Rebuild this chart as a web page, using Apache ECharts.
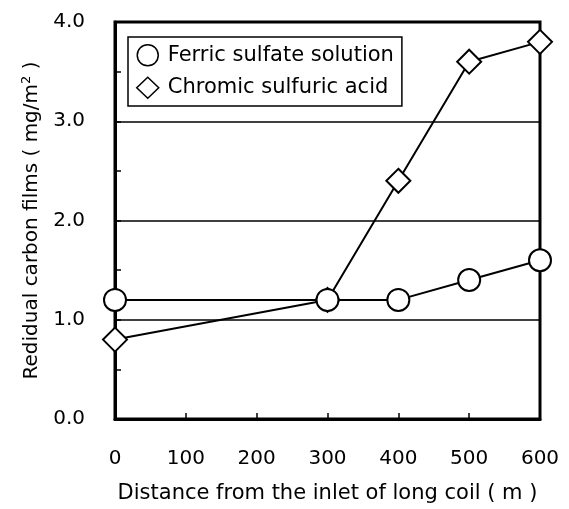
<!DOCTYPE html>
<html>
<head>
<meta charset="utf-8">
<script src="https://cdn.jsdelivr.net/npm/echarts@6/dist/echarts.min.js"></script>
<style>
  html, body { margin: 0; padding: 0; background: #fff; }
  #main { width: 569px; height: 509px; }
</style>
</head>
<body>
<div id="main"></div>
<script>
// values
var distances = [0, 300, 400, 500, 600]
var ferric = [1.2, 1.2, 1.2, 1.4, 1.6]
var chromic = [0.8, 1.2, 2.4, 3.6, 3.8]
var seriesNames = ['Ferric sulfate solution', 'Chromic sulfuric acid']

var font = 'DejaVu Sans'

function pairs(xs, ys) {
  return xs.map(function(x, i) { return [x, ys[i]] })
}

var chart = echarts.init(document.getElementById('main'))
var option = {
  animation: false,
  textStyle: { fontFamily: font, color: '#000' },
  grid: {
    left: 115, right: 29, top: 22, bottom: 85,
    show: true, borderColor: '#000', borderWidth: 3
  },
  legend: {
    left: 128, top: 37,
    orient: 'vertical',
    borderColor: '#000', borderWidth: 1.5,
    padding: [7, 8, 7, 8],
    itemGap: 10,
    itemWidth: 22, itemHeight: 21,
    textStyle: { fontFamily: font, fontSize: 21, color: '#000', padding: [0, 0, 0, 4] },
    data: [
      { name: seriesNames[0], icon: 'circle', itemStyle: { color: '#fff', borderColor: '#000', borderWidth: 1.5 } },
      { name: seriesNames[1], icon: 'diamond', itemStyle: { color: '#fff', borderColor: '#000', borderWidth: 1.5 } }
    ]
  },
  xAxis: {
    type: 'value', min: 0, max: 600, interval: 100,
    name: 'Distance from the inlet of long coil ( m )',
    nameLocation: 'middle', nameGap: 64,
    nameTextStyle: { fontFamily: font, fontSize: 21, color: '#000' },
    axisLine: { lineStyle: { color: '#000', width: 3 } },
    axisTick: { inside: true, length: 6, lineStyle: { color: '#000', width: 1.5 } },
    axisLabel: { fontFamily: font, fontSize: 20, color: '#000', margin: 30 },
    splitLine: { show: false }
  },
  yAxis: {
    type: 'value', min: 0, max: 4, interval: 1,
    name: '{n|Redidual carbon films ( mg/m}{s|2}{n| )}',
    nameLocation: 'middle', nameGap: 72, nameRotate: 90,
    nameTextStyle: {
      rich: {
        n: { fontFamily: font, fontSize: 20, color: '#000' },
        s: { fontFamily: font, fontSize: 13, color: '#000', verticalAlign: 'top', padding: [0, 0, 10, 0] }
      }
    },
    axisLine: { lineStyle: { color: '#000', width: 3 } },
    axisTick: { inside: true, length: 6, lineStyle: { color: '#000', width: 1.5 } },
    minorTick: { show: true, splitNumber: 2, length: 6, lineStyle: { color: '#000', width: 1.5 } },
    axisLabel: {
      fontFamily: font, fontSize: 20, color: '#000', margin: 30,
      formatter: function(v) { return v.toFixed(1) }
    },
    splitLine: { show: true, lineStyle: { color: '#000', width: 1.5 } }
  },
  series: [
    {
      name: seriesNames[0], type: 'line',
      data: pairs(distances, ferric),
      symbol: 'circle', symbolSize: 22,
      lineStyle: { color: '#000', width: 2 },
      itemStyle: { color: '#fff', borderColor: '#000', borderWidth: 2 },
      z: 4
    },
    {
      name: seriesNames[1], type: 'line',
      data: pairs(distances, chromic),
      symbol: 'diamond', symbolSize: 24,
      lineStyle: { color: '#000', width: 2 },
      itemStyle: { color: '#fff', borderColor: '#000', borderWidth: 2 },
      z: 3
    }
  ]
}
chart.setOption(option)
</script>
</body>
</html>
